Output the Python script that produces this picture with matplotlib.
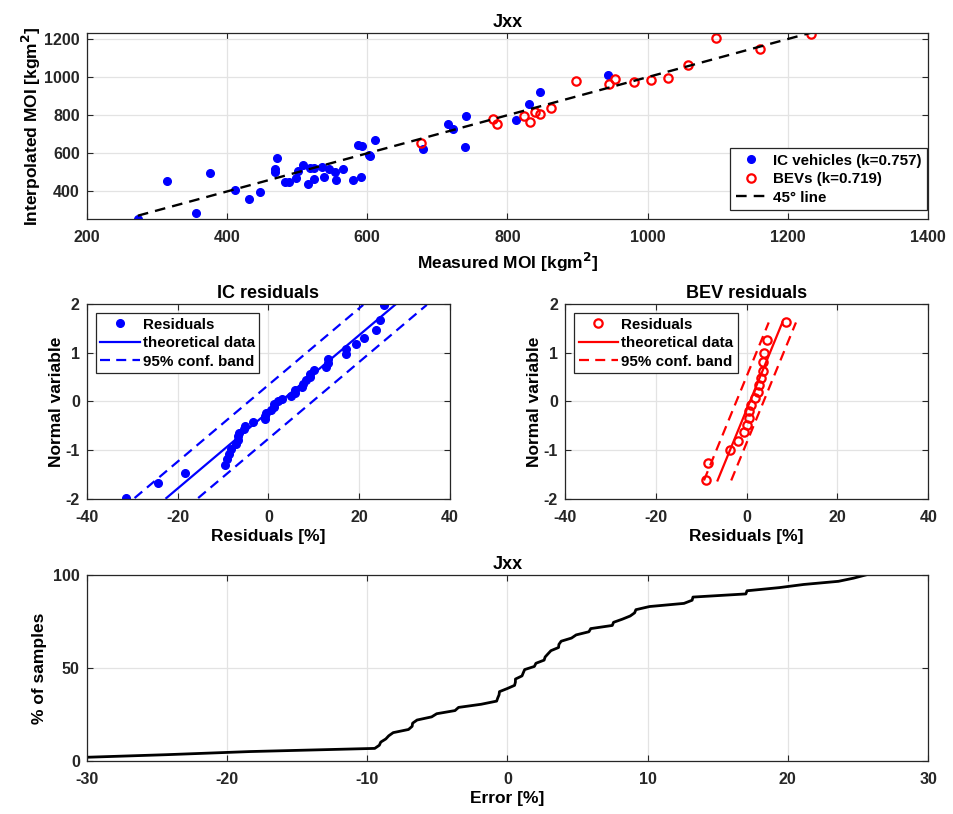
import matplotlib
matplotlib.use('Agg')
import matplotlib.pyplot as plt
import numpy as np
from statistics import NormalDist

plt.rcParams['font.family'] = ['Liberation Sans', 'DejaVu Sans']
plt.rcParams['font.weight'] = 'bold'
plt.rcParams['axes.labelweight'] = 'bold'
plt.rcParams['axes.titleweight'] = 'bold'
plt.rcParams['axes.unicode_minus'] = False

# measured vs interpolated MOI [kgm^2]
ic_measured = [273, 314, 356, 376, 411, 431, 447, 472, 469, 469, 483, 488, 499, 502,
               508, 516, 518, 524, 524, 535, 539, 546, 554, 556, 565, 580, 591, 587,
               593, 602, 604, 611, 679, 716, 723, 741, 740, 813, 831, 846, 944]
ic_interp = [254, 457, 288, 497, 406, 361, 397, 578, 518, 503, 449, 451, 471, 505,
             537, 441, 522, 463, 521, 529, 476, 516, 503, 459, 518, 462, 474, 646,
             638, 590, 587, 669, 622, 754, 728, 795, 632, 775, 861, 921, 1009]
bev_measured = [677, 779, 785, 824, 832, 839, 846, 862, 898, 945, 954, 980, 1005,
                1029, 1057, 1098, 1161, 1233]
bev_interp = [653, 779, 756, 795, 765, 817, 809, 840, 981, 963, 991, 975, 986,
              998, 1063, 1207, 1149, 1226]
ic_k = 0.757
bev_k = 0.719

# half width of the 95% band in the normal plots [%]
ic_band = 7.0
bev_band = 3.0

dark = '#262626'
grid_c = '#e3e3e3'


def style(ax):
    ax.grid(True, color=grid_c, lw=0.9)
    ax.set_axisbelow(True)
    ax.tick_params(direction='in', top=True, right=True, length=4, width=0.8,
                   labelsize=11.5, colors=dark)
    ax.tick_params(axis='x', pad=8)
    ax.tick_params(axis='y', pad=5)
    for s in ax.spines.values():
        s.set_color(dark)
        s.set_linewidth(0.9)


def normplot(ax, res, color, filled, band, title):
    res = np.sort(np.asarray(res, dtype=float))
    n = len(res)
    q = np.array([NormalDist().inv_cdf(i / (n + 1)) for i in range(1, n + 1)])
    mu, sd = res.mean(), res.std(ddof=1)
    qq = np.array([q[0], q[-1]])
    if filled:
        ax.plot(res, q, 'o', color=color, ms=5.5, label='Residuals')
    else:
        ax.plot(res, q, 'o', mfc='none', mec=color, mew=1.6, ms=6,
                label='Residuals')
    ax.plot(mu + sd * qq, qq, '-', color=color, lw=1.6, label='theoretical data')
    ax.plot(mu - band + sd * qq, qq, '--', color=color, lw=1.6, dashes=(4.5, 2.8),
            label='95% conf. band')
    ax.plot(mu + band + sd * qq, qq, '--', color=color, lw=1.6, dashes=(4.5, 2.8))
    ax.set_xlim(-40, 40)
    ax.set_ylim(-2, 2)
    ax.set_xticks([-40, -20, 0, 20, 40])
    ax.set_yticks([-2, -1, 0, 1, 2])
    ax.set_title(title, fontsize=13, pad=4)
    ax.set_xlabel('Residuals [%]', fontsize=12.5, labelpad=3)
    ax.set_ylabel('Normal variable', fontsize=12.5, labelpad=1)
    style(ax)
    leg = ax.legend(loc='upper left', fontsize=10.9, numpoints=1, handlelength=2.6,
                    fancybox=False, edgecolor=dark, framealpha=1,
                    borderaxespad=0.6, handletextpad=0.2, labelspacing=0.3,
                    borderpad=0.3)
    leg.get_frame().set_linewidth(0.9)


ic_m, ic_i = np.array(ic_measured, float), np.array(ic_interp, float)
bev_m, bev_i = np.array(bev_measured, float), np.array(bev_interp, float)
ic_res = (ic_m - ic_i) / ic_i * 100
bev_res = (bev_m - bev_i) / bev_i * 100

fig = plt.figure(figsize=(9.54, 8.14), dpi=100)
ax1 = fig.add_axes([0.0909, 0.7306, 0.8819, 0.2292])
ax2 = fig.add_axes([0.0909, 0.3870, 0.3808, 0.2396])
ax3 = fig.add_axes([0.5922, 0.3870, 0.3808, 0.2396])
ax4 = fig.add_axes([0.0909, 0.0651, 0.8819, 0.2285])

# top: measured vs interpolated
ax1.plot(ic_m, ic_i, 'o', color='blue', ms=5.5, label=f'IC vehicles (k={ic_k})')
ax1.plot(bev_m, bev_i, 'o', mfc='none', mec='red', mew=1.6, ms=6,
         label=f'BEVs (k={bev_k})')
all_m = np.concatenate([ic_m, bev_m])
all_i = np.concatenate([ic_i, bev_i])
line = np.array([all_m.min(), all_m.max()])
ax1.plot(line, line, '--', color='black', lw=1.7, dashes=(4.5, 3), label='45° line')
ax1.set_xlim(200, 1400)
ax1.set_ylim(min(all_i.min(), line[0]), max(all_i.max(), line[1]))
ax1.set_xticks(np.arange(200, 1401, 200))
ax1.set_yticks(np.arange(400, 1201, 200))
ax1.set_title('Jxx', fontsize=13, pad=4)
ax1.set_xlabel('Measured MOI [kgm$^\\mathbf{2}$]', fontsize=12.5, labelpad=4)
ax1.set_ylabel('Interpolated MOI [kgm$^\\mathbf{2}$]', fontsize=12.5, labelpad=1)
style(ax1)
leg = ax1.legend(loc='lower right', bbox_to_anchor=(0.999, 0.05), fontsize=10.9,
                 numpoints=1, handlelength=2.0, fancybox=False, edgecolor=dark,
                 framealpha=1, borderaxespad=0, handletextpad=0.5,
                 labelspacing=0.3, borderpad=0.35)
leg.get_frame().set_linewidth(0.9)

# middle: normal probability plots of the residuals
normplot(ax2, ic_res, 'blue', True, ic_band, 'IC residuals')
normplot(ax3, bev_res, 'red', False, bev_band, 'BEV residuals')

# bottom: cumulative distribution of all errors
err = np.sort(np.concatenate([ic_res, bev_res]))
pct = np.arange(1, len(err) + 1) / len(err) * 100
ax4.plot(err, pct, '-', color='black', lw=2)
ax4.set_xlim(-30, 30)
ax4.set_ylim(0, 100)
ax4.set_xticks(np.arange(-30, 31, 10))
ax4.set_yticks([0, 50, 100])
ax4.set_title('Jxx', fontsize=13, pad=4)
ax4.set_xlabel('Error [%]', fontsize=12.5, labelpad=3)
ax4.set_ylabel('% of samples', fontsize=12.5, labelpad=4)
style(ax4)

fig.savefig('out.png', dpi=100)
plt.close()
